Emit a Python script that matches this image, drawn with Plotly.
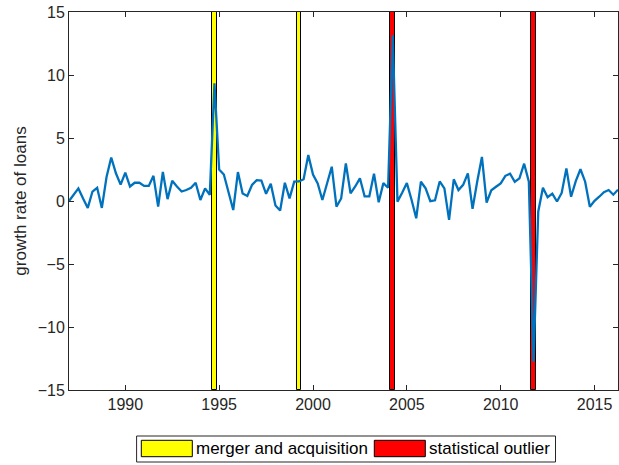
import numpy as np
import plotly.graph_objects as go

# Quarterly growth rate of loans, 1987Q1 .. 2016Q2
start_year = 1987
growth = [
    0.0, 0.5, 1.0, 0.2, -0.55, 0.75, 1.05, -0.55, 1.9, 3.45,
    2.2, 1.3, 2.25, 1.15, 1.45, 1.45, 1.2, 1.2, 2.0, -0.45,
    2.3, 0.15, 1.6, 1.15, 0.75, 0.87, 1.05, 1.45, 0.08, 1.0,
    0.48, 9.35, 2.5, 2.1, 0.7, -0.72, 2.3, 0.6, 0.4, 1.27,
    1.65, 1.62, 0.57, 1.37, -0.35, -0.75, 1.45, 0.21, 1.53, 1.55,
    1.73, 3.65, 2.1, 1.4, 0.08, 1.3, 2.72, -0.45, 0.2, 2.98,
    0.61, 1.15, 1.8, 0.37, 0.37, 2.17, -0.1, 1.42, 1.05, 13.15,
    -0.05, 0.66, 1.42, 0.1, -1.37, 1.53, 1.0, -0.02, 0.05, 1.55,
    1.0, -1.5, 1.72, 0.87, 1.28, 2.19, -0.62, 1.55, 3.5, -0.12,
    0.85, 1.13, 1.4, 2.0, 2.17, 1.53, 1.8, 2.96, 1.53, -12.75,
    -0.85, 1.05, 0.3, 0.58, -0.04, 0.64, 2.59, 0.34, 1.58, 2.52,
    1.53, -0.46, 0.01, 0.34, 0.7, 0.87, 0.5, 0.9,
]
dates = start_year + 0.25 * np.arange(len(growth))

# Highlighted quarters
ma_dates = [1994.75, 1999.25]          # merger and acquisition
outlier_dates = [2004.25, 2011.75]     # statistical outlier
event_labels = ["merger and acquisition", "statistical outlier"]
event_colors = ["#FFFF00", "#FF0000"]

y_min, y_max = -15, 15
x_min, x_max = 1987, 2016.25
x_ticks = [1990, 1995, 2000, 2005, 2010, 2015]
y_ticks = [-15, -10, -5, 0, 5, 10, 15]

FONT = "Liberation Sans, Arial, Helvetica, sans-serif"
AX = "#262626"

fig = go.Figure()
for dts, col, lab in zip([ma_dates, outlier_dates], event_colors, event_labels):
    fig.add_trace(go.Bar(
        x=dts, y=[y_max - y_min] * len(dts), base=y_min, width=0.25,
        marker=dict(color=col, line=dict(color="black", width=1)),
        name=lab, showlegend=False, hoverinfo="skip",
    ))

fig.add_trace(go.Scatter(
    x=dates, y=growth, mode="lines",
    line=dict(color="#0072BD", width=2.3), showlegend=False,
))

# Legend box (MATLAB-style, below the axes)
L, T = 69, 12
W, H = 549, 378
def px(x):
    return (x - L) / W
def py(y):
    return (T + H - y) / H

shapes = [dict(type="rect", xref="paper", yref="paper",
               x0=px(136.6), x1=px(555.5), y0=py(436), y1=py(462),
               line=dict(color=AX, width=1), fillcolor="white", layer="above")]
annotations = []
sw_x = [141.3, 374.3]
for i, (lab, col) in enumerate(zip(event_labels, event_colors)):
    shapes.append(dict(type="rect", xref="paper", yref="paper",
                       x0=px(sw_x[i]), x1=px(sw_x[i] + 51), y0=py(440.3), y1=py(456.7),
                       line=dict(color="black", width=1), fillcolor=col, layer="above"))
    annotations.append(dict(xref="paper", yref="paper", x=px(sw_x[i] + 53), y=py(448.5),
                            text=lab, showarrow=False, xanchor="left", yanchor="middle",
                            font=dict(family=FONT, size=17, color="black")))

fig.update_layout(
    width=619, height=465,
    margin=dict(l=L, r=619 - L - W, t=T, b=465 - T - H),
    paper_bgcolor="white", plot_bgcolor="white",
    barmode="overlay", bargap=0,
    font=dict(family=FONT, size=16, color=AX),
    shapes=shapes, annotations=annotations,
    showlegend=False,
)
fig.update_xaxes(
    range=[x_min, x_max], tickvals=x_ticks, ticks="inside", ticklen=5,
    tickcolor=AX, showline=True, linecolor=AX, linewidth=1, mirror="ticks",
    showgrid=False, zeroline=False, tickfont=dict(size=16, color=AX),
)
fig.update_yaxes(
    range=[y_min, y_max], tickvals=y_ticks, ticks="inside", ticklen=5,
    tickcolor=AX, showline=True, linecolor=AX, linewidth=1, mirror="ticks",
    showgrid=False, zeroline=False, tickfont=dict(size=16, color=AX),
    title=dict(text="growth rate of loans", font=dict(size=17, color=AX), standoff=6),
)

fig.write_html("out.html")
